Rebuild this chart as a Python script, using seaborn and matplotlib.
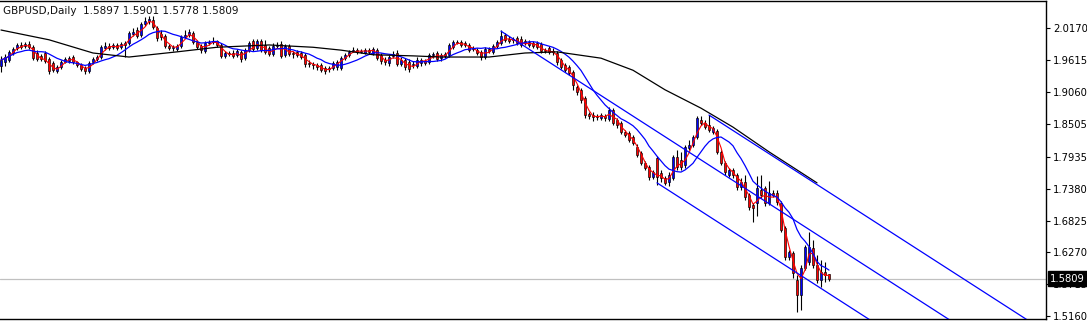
import matplotlib
matplotlib.use("Agg")
import matplotlib.pyplot as plt
import matplotlib.transforms as mtransforms
import numpy as np
import pandas as pd
import seaborn as sns

# ---------------- data (GBPUSD daily) ----------------
opens = [
    1.951, 1.958, 1.962, 1.974, 1.983, 1.988, 1.986, 1.990, 1.984, 1.974,
    1.969, 1.974, 1.964, 1.957, 1.943, 1.950, 1.958, 1.960, 1.967, 1.958,
    1.953, 1.948, 1.943, 1.958, 1.964, 1.967, 1.983, 1.986, 1.984, 1.988,
    1.984, 1.988, 1.991, 2.007, 2.014, 2.005, 2.024, 2.030, 2.031, 2.018,
    2.007, 2.004, 1.986, 1.983, 1.981, 1.986, 2.002, 2.005, 2.009, 1.993,
    1.986, 1.977, 1.991, 1.993, 1.995, 1.988, 1.969, 1.974, 1.974, 1.971,
    1.976, 1.965, 1.979, 1.995, 1.983, 1.995, 1.988, 1.983, 1.972, 1.986,
    1.990, 1.971, 1.986, 1.974, 1.976, 1.974, 1.971, 1.957, 1.955, 1.953,
    1.953, 1.948, 1.946, 1.948, 1.950, 1.948, 1.965, 1.971, 1.977, 1.979,
    1.976, 1.974, 1.979, 1.974, 1.979, 1.971, 1.962, 1.957, 1.969, 1.974,
    1.955, 1.962, 1.958, 1.953, 1.951, 1.957, 1.960, 1.958, 1.971, 1.974,
    1.965, 1.969, 1.971, 1.984, 1.993, 1.993, 1.991, 1.988, 1.983, 1.979,
    1.976, 1.967, 1.981, 1.976, 1.986, 1.991, 2.005, 1.998, 1.997, 2.000,
    1.998, 1.995, 1.988, 1.991, 1.991, 1.990, 1.979, 1.983, 1.977, 1.974,
    1.962, 1.953, 1.950, 1.941, 1.915, 1.910, 1.896, 1.868, 1.866, 1.864,
    1.861, 1.864, 1.859, 1.875, 1.857, 1.852, 1.837, 1.835, 1.828, 1.810,
    1.800, 1.783, 1.776, 1.758, 1.791, 1.765, 1.756, 1.750, 1.756, 1.793,
    1.788, 1.779, 1.809, 1.814, 1.828, 1.857, 1.852, 1.849, 1.837, 1.838,
    1.802, 1.783, 1.762, 1.770, 1.762, 1.741, 1.750, 1.727, 1.710, 1.713,
    1.736, 1.739, 1.713, 1.730, 1.730, 1.713, 1.670, 1.619, 1.626, 1.579,
    1.553, 1.600, 1.610, 1.635, 1.605, 1.579, 1.593, 1.5897,
]
highs = [
    1.969, 1.972, 1.979, 1.984, 1.991, 1.993, 1.993, 1.995, 1.988, 1.979,
    1.972, 1.977, 1.967, 1.960, 1.953, 1.962, 1.967, 1.969, 1.971, 1.960,
    1.957, 1.951, 1.960, 1.967, 1.971, 1.988, 1.993, 1.991, 1.991, 1.991,
    1.993, 1.995, 2.012, 2.018, 2.019, 2.028, 2.037, 2.038, 2.038, 2.021,
    2.014, 2.007, 1.990, 1.988, 1.990, 2.005, 2.014, 2.016, 2.012, 1.997,
    1.990, 1.995, 1.997, 2.002, 1.997, 1.991, 1.977, 1.977, 1.979, 1.981,
    1.979, 1.983, 1.995, 1.998, 1.998, 1.998, 1.997, 1.986, 1.991, 1.993,
    1.995, 1.990, 1.990, 1.977, 1.979, 1.977, 1.974, 1.962, 1.958, 1.957,
    1.957, 1.951, 1.951, 1.960, 1.962, 1.969, 1.974, 1.979, 1.984, 1.983,
    1.981, 1.983, 1.983, 1.984, 1.983, 1.974, 1.967, 1.971, 1.977, 1.979,
    1.967, 1.965, 1.964, 1.960, 1.967, 1.965, 1.964, 1.974, 1.976, 1.977,
    1.974, 1.976, 1.991, 1.997, 1.997, 1.997, 1.995, 1.991, 1.986, 1.983,
    1.979, 1.984, 1.984, 1.990, 1.997, 2.014, 2.009, 2.004, 2.002, 2.004,
    2.004, 1.998, 1.997, 1.995, 1.995, 1.993, 1.983, 1.986, 1.983, 1.977,
    1.965, 1.957, 1.953, 1.944, 1.918, 1.913, 1.899, 1.871, 1.871, 1.868,
    1.870, 1.868, 1.880, 1.878, 1.861, 1.856, 1.840, 1.838, 1.831, 1.816,
    1.803, 1.786, 1.779, 1.770, 1.795, 1.770, 1.760, 1.767, 1.796, 1.805,
    1.802, 1.814, 1.823, 1.831, 1.864, 1.864, 1.857, 1.866, 1.847, 1.841,
    1.805, 1.786, 1.774, 1.774, 1.765, 1.756, 1.762, 1.730, 1.713, 1.760,
    1.762, 1.743, 1.751, 1.736, 1.736, 1.716, 1.673, 1.631, 1.629, 1.588,
    1.605, 1.640, 1.663, 1.649, 1.622, 1.614, 1.610, 1.5901,
]
lows = [
    1.941, 1.951, 1.958, 1.971, 1.979, 1.981, 1.983, 1.981, 1.962, 1.960,
    1.960, 1.957, 1.937, 1.941, 1.939, 1.946, 1.957, 1.957, 1.955, 1.950,
    1.943, 1.937, 1.939, 1.955, 1.960, 1.964, 1.979, 1.979, 1.981, 1.979,
    1.981, 1.967, 1.988, 2.004, 2.000, 2.002, 2.021, 2.024, 2.016, 1.995,
    1.997, 1.983, 1.979, 1.977, 1.977, 1.983, 2.000, 2.002, 1.990, 1.981,
    1.974, 1.974, 1.988, 1.990, 1.984, 1.965, 1.965, 1.969, 1.965, 1.967,
    1.958, 1.962, 1.976, 1.977, 1.979, 1.976, 1.972, 1.969, 1.969, 1.983,
    1.965, 1.967, 1.969, 1.965, 1.967, 1.964, 1.950, 1.950, 1.946, 1.944,
    1.941, 1.937, 1.941, 1.944, 1.944, 1.944, 1.962, 1.967, 1.976, 1.972,
    1.974, 1.972, 1.972, 1.971, 1.962, 1.955, 1.953, 1.951, 1.965, 1.951,
    1.951, 1.944, 1.941, 1.948, 1.948, 1.951, 1.953, 1.955, 1.965, 1.960,
    1.960, 1.965, 1.967, 1.981, 1.990, 1.984, 1.984, 1.976, 1.977, 1.971,
    1.962, 1.964, 1.974, 1.972, 1.983, 1.988, 1.993, 1.991, 1.991, 1.988,
    1.984, 1.988, 1.984, 1.983, 1.981, 1.974, 1.974, 1.972, 1.971, 1.953,
    1.946, 1.941, 1.936, 1.910, 1.901, 1.887, 1.861, 1.859, 1.856, 1.857,
    1.857, 1.856, 1.856, 1.849, 1.843, 1.833, 1.828, 1.819, 1.814, 1.793,
    1.779, 1.770, 1.753, 1.755, 1.744, 1.750, 1.744, 1.743, 1.753, 1.770,
    1.770, 1.774, 1.805, 1.810, 1.824, 1.849, 1.842, 1.837, 1.833, 1.798,
    1.779, 1.762, 1.758, 1.756, 1.736, 1.736, 1.718, 1.701, 1.680, 1.690,
    1.722, 1.708, 1.710, 1.723, 1.710, 1.663, 1.614, 1.614, 1.583, 1.523,
    1.527, 1.596, 1.605, 1.600, 1.574, 1.567, 1.576, 1.5778,
]
closes = [
    1.962, 1.967, 1.976, 1.981, 1.988, 1.984, 1.990, 1.984, 1.965, 1.964,
    1.964, 1.960, 1.943, 1.944, 1.950, 1.958, 1.964, 1.965, 1.958, 1.953,
    1.946, 1.943, 1.957, 1.964, 1.967, 1.984, 1.986, 1.983, 1.988, 1.983,
    1.990, 1.991, 2.009, 2.011, 2.004, 2.024, 2.030, 2.033, 2.019, 2.000,
    2.002, 1.986, 1.983, 1.984, 1.986, 2.002, 2.005, 2.011, 1.993, 1.984,
    1.979, 1.991, 1.993, 1.995, 1.988, 1.969, 1.974, 1.972, 1.969, 1.977,
    1.964, 1.979, 1.991, 1.981, 1.995, 1.979, 1.976, 1.972, 1.986, 1.988,
    1.969, 1.986, 1.972, 1.972, 1.971, 1.967, 1.955, 1.955, 1.953, 1.950,
    1.944, 1.943, 1.948, 1.957, 1.958, 1.965, 1.971, 1.976, 1.979, 1.976,
    1.977, 1.979, 1.976, 1.981, 1.965, 1.960, 1.958, 1.967, 1.972, 1.955,
    1.962, 1.950, 1.946, 1.955, 1.962, 1.962, 1.957, 1.971, 1.972, 1.964,
    1.971, 1.972, 1.988, 1.993, 1.991, 1.988, 1.988, 1.979, 1.981, 1.974,
    1.967, 1.981, 1.977, 1.986, 1.993, 2.004, 1.997, 1.995, 1.998, 1.991,
    1.988, 1.991, 1.993, 1.986, 1.984, 1.977, 1.977, 1.976, 1.976, 1.958,
    1.950, 1.944, 1.939, 1.918, 1.906, 1.892, 1.866, 1.864, 1.863, 1.863,
    1.866, 1.861, 1.875, 1.852, 1.849, 1.837, 1.831, 1.823, 1.817, 1.796,
    1.783, 1.774, 1.758, 1.767, 1.758, 1.756, 1.748, 1.762, 1.793, 1.776,
    1.776, 1.810, 1.814, 1.828, 1.861, 1.852, 1.845, 1.840, 1.843, 1.802,
    1.783, 1.767, 1.770, 1.762, 1.741, 1.750, 1.723, 1.706, 1.704, 1.739,
    1.727, 1.713, 1.730, 1.727, 1.715, 1.666, 1.619, 1.628, 1.591, 1.553,
    1.600, 1.636, 1.636, 1.605, 1.579, 1.593, 1.588, 1.5809,
]

# long moving average (black), read at sampled bars
slow_ma_bars = [0, 12, 23, 32, 44, 54, 67, 78, 85, 93, 103, 110, 122, 131,
                139, 150, 158, 166, 175, 183, 192, 196, 204]
slow_ma_vals = [2.014, 1.997, 1.974, 1.967, 1.976, 1.984, 1.988, 1.984, 1.979,
                1.971, 1.969, 1.967, 1.967, 1.974, 1.976, 1.965, 1.944, 1.910,
                1.878, 1.845, 1.802, 1.784, 1.748]

# channel trend lines (bar index, price) start/end
chan_top_bars = [177, 262]
chan_top_vals = [1.866, 1.4852]
chan_mid_bars = [125, 262]
chan_mid_vals = [2.012, 1.3982]
chan_bot_bars = [164, 262]
chan_bot_vals = [1.748, 1.3090]

y_ticks = [2.0170, 1.9615, 1.9060, 1.8505, 1.7935, 1.7380, 1.6825, 1.6270,
           1.5715, 1.5160]
title_text = "GBPUSD,Daily  1.5897 1.5901 1.5778 1.5809"
last_price = 1.5809

# ---------------- frame ----------------
df = pd.DataFrame({"open": opens, "high": highs, "low": lows, "close": closes})
df["bar"] = np.arange(len(df))
df["ma_fast"] = df["close"].rolling(3, min_periods=1).mean()
df["ma_mid"] = df["close"].rolling(10, min_periods=1).mean()

sns.set_theme(style="white")
plt.rcParams["font.family"] = ["DejaVu Sans"]

W, H = 1087, 321
fig = plt.figure(figsize=(W / 100, H / 100), dpi=100)
ax = fig.add_axes([0, 2 / H, 1046 / W, 318 / H])
ax.set_facecolor("white")

ax.axhline(last_price, color="#c0c0c0", lw=0.9, zorder=1)

# wicks
ax.vlines(df["bar"], df["low"], df["high"], color="black", lw=0.8, zorder=2)
# bodies
up = df["close"] >= df["open"]
body_bot = np.minimum(df["open"], df["close"])
body_h = np.maximum(np.abs(df["close"] - df["open"]), 0.0006)
colors = np.where(up, "#0000ff", "#ff0000")
ax.bar(df["bar"], body_h, bottom=body_bot, width=0.74, color=colors,
       edgecolor="black", linewidth=0.45, zorder=3)

# moving averages
sns.lineplot(x=df["bar"], y=df["ma_fast"], ax=ax, color="#ff0000", lw=0.8, zorder=4)
sns.lineplot(x=df["bar"], y=df["ma_mid"], ax=ax, color="#0000ff", lw=0.9, zorder=4)
sns.lineplot(x=slow_ma_bars, y=slow_ma_vals, ax=ax, color="black", lw=0.9, zorder=4)

# channel
for bx, by in [(chan_top_bars, chan_top_vals), (chan_mid_bars, chan_mid_vals),
               (chan_bot_bars, chan_bot_vals)]:
    sns.lineplot(x=bx, y=by, ax=ax, color="#0000ff", lw=0.9, zorder=4)

ax.set_xlim(-0.25, 261.25)
ax.set_ylim(1.5111, 2.0645)
ax.set_xlabel("")
ax.set_ylabel("")
ax.set_xticks([])
ax.yaxis.tick_right()
ax.set_yticks(y_ticks)
ax.set_yticklabels([f"{v:.4f}" for v in y_ticks])
ax.tick_params(axis="y", which="both", right=True, left=False, direction="out",
               length=3, width=0.8, color="black", labelsize=7.2, pad=2,
               labelcolor="black")
for s in ["top", "right", "bottom"]:
    ax.spines[s].set_visible(True)
    ax.spines[s].set_color("black")
    ax.spines[s].set_linewidth(1.0)
ax.spines["left"].set_visible(False)
ax.grid(False)

ax.text(0.003, 0.985, title_text, transform=ax.transAxes, ha="left", va="top",
        fontsize=7.5, color="#111111", zorder=6)

trans = mtransforms.blended_transform_factory(ax.transAxes, ax.transData)
ax.text(1.004, last_price, f"{last_price:.4f}", transform=trans, ha="left",
        va="center", fontsize=7.2, color="white", zorder=10, clip_on=False,
        bbox=dict(boxstyle="square,pad=0.25", fc="black", ec="black"))

fig.savefig("out.png", dpi=100)
